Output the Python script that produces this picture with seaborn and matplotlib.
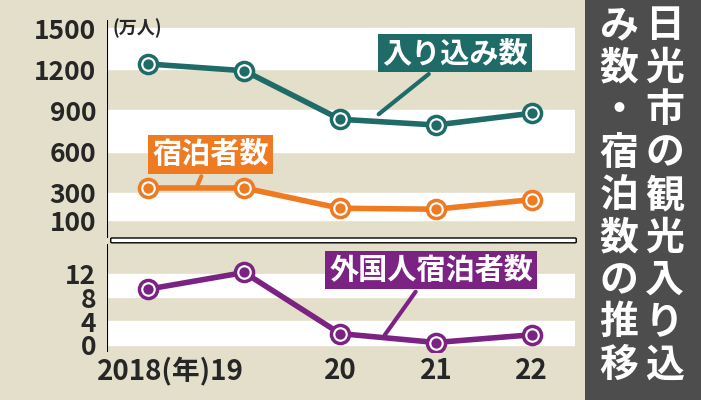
import matplotlib
matplotlib.use("Agg")
import matplotlib.pyplot as plt
import seaborn as sns
import pandas as pd

years = [2018, 2019, 2020, 2021, 2022]
xlabels = ["", "2018(年)19", "20", "21", "22"]
irikomi = [1239, 1190, 836, 794, 880]
shukuhaku = [335, 335, 187, 180, 250]
gaikoku = [9.4, 12.2, 1.9, 0.4, 1.7]
upper_ticks = [100, 300, 600, 900, 1200, 1500]
lower_ticks = [0, 4, 8, 12]

sns.set_style("white")
plt.rcParams['font.family'] = ['Noto Sans CJK JP', 'DejaVu Sans']
plt.rcParams['font.weight'] = 'bold'

BG = "#e3dfca"
TEAL = "#1f6b68"
ORANGE = "#ee7a22"
PURPLE = "#7b2382"

fig = plt.figure(figsize=(7.01, 4.0), dpi=100)
fig.patch.set_facecolor(BG)
ax1 = fig.add_axes([0.153, 0.405, 0.667, 0.545])
ax2 = fig.add_axes([0.153, 0.12, 0.667, 0.27])

xpos = list(range(len(years)))
df = pd.DataFrame({"x": xpos, "a": irikomi, "b": shukuhaku, "c": gaikoku})

for ax in (ax1, ax2):
    ax.set_facecolor(BG)
    for s in ax.spines.values():
        s.set_visible(False)
    ax.set_xlim(-0.43, 4.45)

for lo, hi in [(1200, 1500), (600, 900), (100, 300)]:
    ax1.axhspan(lo, hi, color="white", zorder=0)
for lo, hi in [(8, 12), (0, 4)]:
    ax2.axhspan(lo, hi, color="white", zorder=0)

ax1.set_ylim(-30, 1560)
ax2.set_ylim(-1.2, 17)

def draw(ax, col, color):
    sns.lineplot(data=df, x="x", y=col, ax=ax, color=color, lw=4, zorder=3)
    ax.scatter(df["x"], df[col], s=170, facecolor="white", edgecolor=color, lw=2.5, zorder=4)
    ax.scatter(df["x"], df[col], s=55, facecolor=color, edgecolor="white", lw=0, zorder=5)

draw(ax1, "a", TEAL)
draw(ax1, "b", ORANGE)
draw(ax2, "c", PURPLE)

for ax, ticks in ((ax1, upper_ticks), (ax2, lower_ticks)):
    ax.set_yticks(ticks)
    ax.set_yticklabels([str(t) for t in ticks], fontsize=19, fontweight="bold")
    ax.tick_params(axis="y", length=6, width=1.5, color="black", pad=2)
    ax.set_ylabel("")
    ax.set_xlabel("")
    ax.axvline(-0.43, color="black", lw=1.5)
ax1.set_xticks([])
ax2.set_xticks(xpos)
ax2.set_xticklabels(xlabels, fontsize=20, fontweight="bold")
lbl = ax2.get_xticklabels()[1]
lbl.set_ha("right")
lbl.set_x(1.3)
ax2.tick_params(axis="x", length=0)
ax1.text(-0.38, 1500, "(万人)", fontsize=13, va="center")

def label(ax, x, y, text, color, px, py):
    ax.annotate(text, xy=(px, py), xytext=(x, y), fontsize=21, color="white",
                fontweight="bold", ha="center", va="center", zorder=6,
                bbox=dict(boxstyle="square,pad=0.15", fc=color, ec="none"),
                arrowprops=dict(arrowstyle="-", color=color, lw=3))

label(ax1, 3.2, 1320, "入り込み数", TEAL, 2.38, 860)
label(ax1, 0.65, 580, "宿泊者数", ORANGE, 0.5, 335)
label(ax2, 2.95, 12.6, "外国人宿泊者数", PURPLE, 2.45, 1.3)

fig.patches.append(matplotlib.patches.FancyBboxPatch((0.16, 0.395), 0.66, 0.008,
    boxstyle="round,pad=0.002", transform=fig.transFigure, fc="white", ec="black", lw=1))

fig.patches.append(matplotlib.patches.Rectangle((0.835, 0.0), 0.165, 1.0,
    transform=fig.transFigure, fc="#4d4d4d", ec="none"))
col1 = "日光市の観光入り込"
col2 = "み数・宿泊数の推移"
for i, ch in enumerate(col1):
    fig.text(0.948, 0.935 - i * 0.106, ch, color="white", fontsize=28, fontweight="bold",
             ha="center", va="center")
for i, ch in enumerate(col2):
    fig.text(0.883, 0.935 - i * 0.106, ch, color="white", fontsize=28, fontweight="bold",
             ha="center", va="center")

fig.savefig("out.png", dpi=100, facecolor=BG)
